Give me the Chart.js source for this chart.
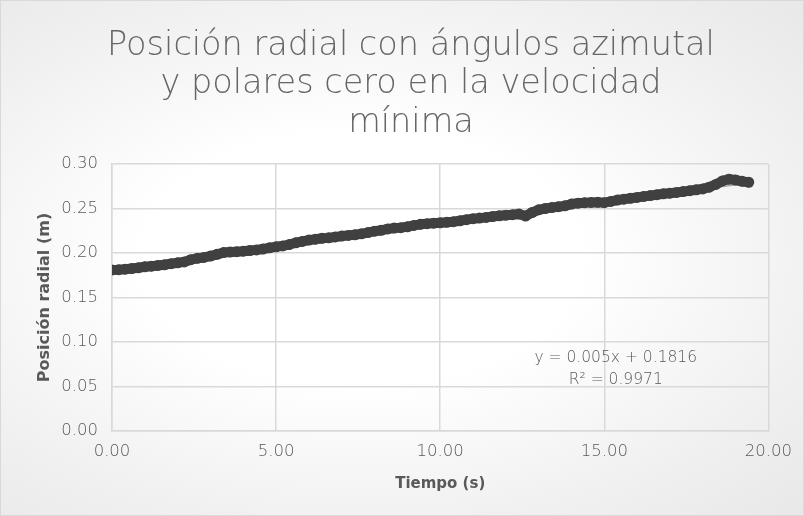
<!DOCTYPE html>
<html>
<head>
<meta charset="utf-8">
<script src="https://cdn.jsdelivr.net/npm/chart.js@4"></script>
<style>
  html, body { margin: 0; padding: 0; }
  body { width: 804px; height: 516px; overflow: hidden; }
  .frame {
    position: relative; width: 802px; height: 514px;
    border: 1px solid #d9d9d9;
    background: radial-gradient(ellipse at 45% 50%, #ffffff 0%, #ffffff 35%, #f0f0f0 75%, #e8e8e8 100%);
  }
</style>
</head>
<body>
<div class="frame"><canvas id="graph" width="802" height="514"></canvas></div>
<script>
// time (s)
const tiempo = [
  0.0, 0.2, 0.4, 0.6, 0.8, 1.0, 1.2, 1.4, 1.6, 1.8,
  2.0, 2.2, 2.4, 2.6, 2.8, 3.0, 3.2, 3.4, 3.6, 3.8,
  4.0, 4.2, 4.4, 4.6, 4.8, 5.0, 5.2, 5.4, 5.6, 5.8,
  6.0, 6.2, 6.4, 6.6, 6.8, 7.0, 7.2, 7.4, 7.6, 7.8,
  8.0, 8.2, 8.4, 8.6, 8.8, 9.0, 9.2, 9.4, 9.6, 9.8,
  10.0, 10.2, 10.4, 10.6, 10.8, 11.0, 11.2, 11.4, 11.6, 11.8,
  12.0, 12.2, 12.4, 12.6, 12.8, 13.0, 13.2, 13.4, 13.6, 13.8,
  14.0, 14.2, 14.4, 14.6, 14.8, 15.0, 15.2, 15.4, 15.6, 15.8,
  16.0, 16.2, 16.4, 16.6, 16.8, 17.0, 17.2, 17.4, 17.6, 17.8,
  18.0, 18.2, 18.4, 18.6, 18.8, 19.0, 19.2, 19.4
];
// radial position (m)
const posicion = [
  0.1810, 0.1812, 0.1818, 0.1825, 0.1834, 0.1845, 0.1852, 0.1860, 0.1868, 0.1880,
  0.1890, 0.1900, 0.1925, 0.1940, 0.1950, 0.1965, 0.1985, 0.2005, 0.2010, 0.2015,
  0.2020, 0.2028, 0.2035, 0.2045, 0.2058, 0.2070, 0.2080, 0.2095, 0.2115, 0.2130,
  0.2145, 0.2155, 0.2165, 0.2170, 0.2180, 0.2190, 0.2198, 0.2205, 0.2215, 0.2230,
  0.2245, 0.2255, 0.2270, 0.2280, 0.2285, 0.2295, 0.2310, 0.2322, 0.2330, 0.2335,
  0.2340, 0.2345, 0.2352, 0.2362, 0.2375, 0.2385, 0.2392, 0.2400, 0.2410, 0.2418,
  0.2425, 0.2430, 0.2438, 0.2415, 0.2455, 0.2485, 0.2500, 0.2510, 0.2520, 0.2530,
  0.2550, 0.2560, 0.2565, 0.2568, 0.2570, 0.2565, 0.2580, 0.2595, 0.2605, 0.2615,
  0.2625, 0.2635, 0.2645, 0.2655, 0.2665, 0.2672, 0.2680, 0.2690, 0.2700, 0.2710,
  0.2720, 0.2740, 0.2770, 0.2810, 0.2830, 0.2820, 0.2805, 0.2795
];

// linear trendline reported on the chart
const pendiente = 0.005;
const intercepto = 0.1816;
const r2 = 0.9971;

const tituloLineas = [
  'Posición radial con ángulos azimutal',
  'y polares cero en la velocidad',
  'mínima'
];

const puntos = tiempo.map((t, i) => ({ x: t, y: posicion[i] }));
const tFin = tiempo[tiempo.length - 1];
const tendencia = [
  { x: 0, y: intercepto },
  { x: tFin, y: intercepto + pendiente * tFin }
];

const textColor = '#595959';
const gridColor = '#d9d9d9';
const fontName = '"DejaVu Sans"';

// title drawn by hand so it can sit a bit right of the canvas centre, like the original
const tituloPlugin = {
  id: 'titulo',
  afterDraw(chart) {
    const ctx = chart.ctx;
    ctx.save();
    ctx.fillStyle = '#666666';
    ctx.font = '200 33.5px ' + fontName;
    ctx.textAlign = 'center';
    ctx.textBaseline = 'middle';
    tituloLineas.forEach((linea, i) => {
      ctx.fillText(linea, 410, 45 + i * 38.5);
    });
    ctx.restore();
  }
};

// equation label drawn inside the plot area
const ecuacionPlugin = {
  id: 'ecuacion',
  afterDatasetsDraw(chart) {
    const ctx = chart.ctx;
    const xs = chart.scales.x;
    const ys = chart.scales.y;
    ctx.save();
    ctx.fillStyle = textColor;
    ctx.font = '200 15.5px ' + fontName;
    ctx.textAlign = 'center';
    ctx.textBaseline = 'middle';
    const cx = xs.getPixelForValue(15.35);
    ctx.fillText('y = ' + pendiente + 'x + ' + intercepto, cx, ys.getPixelForValue(0.082));
    ctx.fillText('R² = ' + r2, cx, ys.getPixelForValue(0.0575));
    ctx.restore();
  }
};

new Chart(document.getElementById('graph').getContext('2d'), {
  type: 'scatter',
  data: {
    datasets: [
      {
        label: 'Tendencia',
        type: 'line',
        data: tendencia,
        borderColor: '#a6a6a6',
        borderWidth: 1.5,
        pointRadius: 0,
        order: 2
      },
      {
        label: 'Posición radial',
        data: puntos,
        backgroundColor: '#404040',
        borderColor: '#404040',
        showLine: true,
        borderWidth: 10,
        borderCapStyle: 'round',
        borderJoinStyle: 'round',
        pointRadius: 5.5,
        pointBorderWidth: 0,
        order: 1
      }
    ]
  },
  options: {
    responsive: false,
    animation: false,
    layout: { padding: { top: 163, left: 30, right: 32, bottom: 18 } },
    plugins: {
      legend: { display: false },
      tooltip: { enabled: false },
      title: { display: false }
    },
    scales: {
      x: {
        type: 'linear',
        min: 0,
        max: 20,
        ticks: {
          stepSize: 5,
          color: textColor,
          font: { family: fontName, size: 16.5, weight: 200 },
          padding: 11,
          callback: v => v.toFixed(2)
        },
        grid: { color: gridColor, lineWidth: 1.5, drawTicks: false },
        border: { color: gridColor, width: 1.5 },
        title: {
          display: true,
          text: 'Tiempo (s)',
          color: textColor,
          font: { family: fontName, size: 15, weight: 'bold' },
          padding: { top: 4 }
        },
        afterFit: s => { s.height = 66; }
      },
      y: {
        min: 0,
        max: 0.30,
        ticks: {
          stepSize: 0.05,
          color: textColor,
          font: { family: fontName, size: 16.5, weight: 200 },
          padding: 14,
          callback: v => v.toFixed(2)
        },
        grid: { color: gridColor, lineWidth: 1.5, drawTicks: false },
        border: { color: gridColor, width: 1.5 },
        title: {
          display: true,
          text: 'Posición radial (m)',
          color: textColor,
          font: { family: fontName, size: 16, weight: 'bold' },
          padding: { bottom: 0 }
        },
        afterFit: s => { s.width = 81; }
      }
    }
  },
  plugins: [ecuacionPlugin, tituloPlugin]
});
</script>
</body>
</html>
